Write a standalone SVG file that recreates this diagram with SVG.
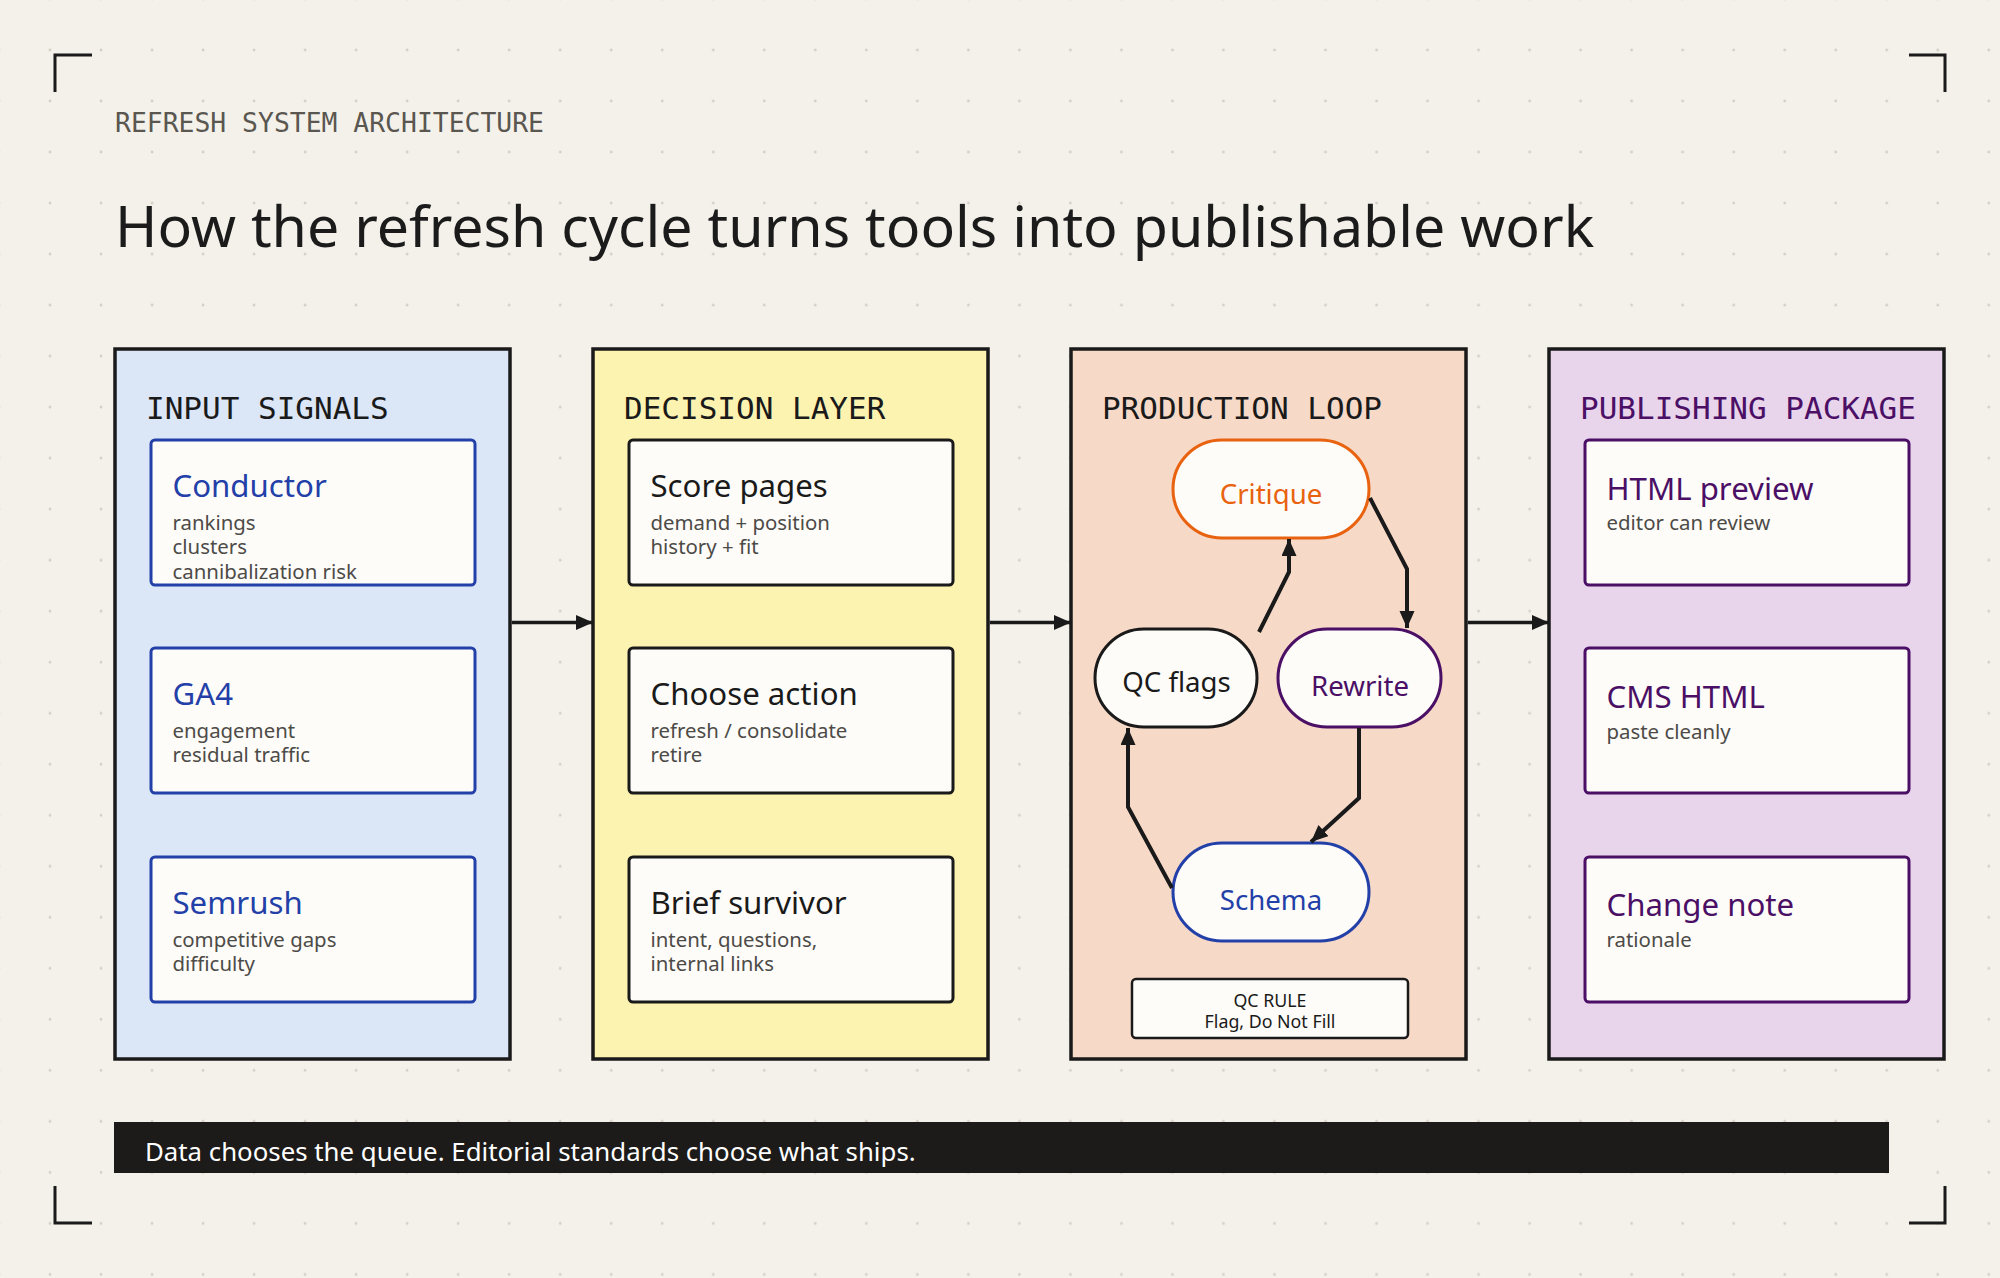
<svg xmlns="http://www.w3.org/2000/svg" width="2000" height="1278" viewBox="0 0 2000 1278">
<defs>
<pattern id="dots" x="24.5" y="24.5" width="51.02" height="51.02" patternUnits="userSpaceOnUse">
<circle cx="25.51" cy="25.51" r="1.4" fill="#d3cfc5"/>
</pattern>
<marker id="ah" markerUnits="userSpaceOnUse" markerWidth="18" markerHeight="16" refX="17" refY="7.5" orient="auto">
<path d="M0,0 L17,7.5 L0,15 z" fill="#1a1a1a"/>
</marker>
<style>
.mono{font-family:"DejaVu Sans Mono","Liberation Mono",monospace}
.sans{font-family:"Noto Sans","Open Sans","Liberation Sans",sans-serif}
.panel{stroke:#1a1a1a;stroke-width:3.5}
.card{fill:#fdfcf8;stroke-width:3}
.ptitle{font-size:31px;fill:#1a1a1a}
.ctitle{font-size:31.2px}
.csub{font-size:20.4px;fill:#4d4b48}
.pill{fill:#fdfcf8;stroke-width:3}
.ptext{font-size:27.6px;text-anchor:middle}
.conn{fill:none;stroke:#1a1a1a;stroke-width:4;marker-end:url(#ah)}
.link{fill:none;stroke:#1a1a1a;stroke-width:3.5;marker-end:url(#ah)}
.corner{fill:none;stroke:#1a1a1a;stroke-width:3}
.blue{stroke:#2340a8}
.bluet{fill:#2340a8}
.purp{stroke:#4b0f66}
.purpt{fill:#4b0f66}
.dark{stroke:#1a1a1a}
.darkt{fill:#1a1a1a}
</style>
</defs>
<rect width="2000" height="1278" fill="#f4f1ea"/>
<rect width="2000" height="1278" fill="url(#dots)"/>
<g id="corners">
<path class="corner" d="M55,92 V55 H92"/>
<path class="corner" d="M1909,55 H1945 V92"/>
<path class="corner" d="M55,1186 V1223 H92"/>
<path class="corner" d="M1909,1223 H1945 V1186"/>
</g>
<g id="header">
<text class="mono" x="115" y="132" font-size="26.4" fill="#5a5650">REFRESH SYSTEM ARCHITECTURE</text>
<text class="sans" x="115" y="247" font-size="57.3" fill="#1b1b1b">How the refresh cycle turns tools into publishable work</text>
</g>

<g id="panel-input">
<rect class="panel" x="115" y="349" width="395" height="710" fill="#dbe6f7"/>
<text class="mono ptitle" x="146" y="419">INPUT SIGNALS</text>
</g>
<g id="panel-decision">
<rect class="panel" x="593" y="349" width="395" height="710" fill="#fdf3b0"/>
<text class="mono ptitle" x="624" y="419">DECISION LAYER</text>
</g>
<g id="panel-production">
<rect class="panel" x="1071" y="349" width="395" height="710" fill="#f6d9c7"/>
<text class="mono ptitle" x="1102" y="419">PRODUCTION LOOP</text>
</g>
<g id="panel-publishing">
<rect class="panel" x="1549" y="349" width="395" height="710" fill="#e8d4eb"/>
<text class="mono ptitle purpt" x="1580" y="419">PUBLISHING PACKAGE</text>
</g>

<g id="conductor">
<rect class="card blue" x="151" y="440" width="324" height="145" rx="4"/>
<text class="sans ctitle bluet" x="172.5" y="497">Conductor</text>
<text class="sans csub" x="172.5" y="529.5">rankings</text>
<text class="sans csub" x="172.5" y="554">clusters</text>
<text class="sans csub" x="172.5" y="578.5">cannibalization risk</text>
</g>
<g id="ga4">
<rect class="card blue" x="151" y="648" width="324" height="145" rx="4"/>
<text class="sans ctitle bluet" x="172.5" y="705">GA4</text>
<text class="sans csub" x="172.5" y="737.5">engagement</text>
<text class="sans csub" x="172.5" y="762">residual traffic</text>
</g>
<g id="semrush">
<rect class="card blue" x="151" y="857" width="324" height="145" rx="4"/>
<text class="sans ctitle bluet" x="172.5" y="914">Semrush</text>
<text class="sans csub" x="172.5" y="946.5">competitive gaps</text>
<text class="sans csub" x="172.5" y="971">difficulty</text>
</g>

<g id="score-pages">
<rect class="card dark" x="629" y="440" width="324" height="145" rx="4"/>
<text class="sans ctitle darkt" x="650.5" y="497">Score pages</text>
<text class="sans csub" x="650.5" y="529.5">demand + position</text>
<text class="sans csub" x="650.5" y="554">history + fit</text>
</g>
<g id="choose-action">
<rect class="card dark" x="629" y="648" width="324" height="145" rx="4"/>
<text class="sans ctitle darkt" x="650.5" y="705">Choose action</text>
<text class="sans csub" x="650.5" y="737.5">refresh / consolidate</text>
<text class="sans csub" x="650.5" y="762">retire</text>
</g>
<g id="brief-survivor">
<rect class="card dark" x="629" y="857" width="324" height="145" rx="4"/>
<text class="sans ctitle darkt" x="650.5" y="914">Brief survivor</text>
<text class="sans csub" x="650.5" y="946.5">intent, questions,</text>
<text class="sans csub" x="650.5" y="971">internal links</text>
</g>

<g id="critique">
<rect class="pill" x="1173" y="440" width="196" height="98" rx="49" stroke="#e8620f"/>
<text class="sans ptext" x="1271" y="504" fill="#e8620f">Critique</text>
</g>
<g id="qc-flags">
<rect class="pill" x="1095" y="629" width="162" height="98" rx="49" stroke="#1a1a1a"/>
<text class="sans ptext" x="1176.5" y="692" fill="#1a1a1a">QC flags</text>
</g>
<g id="rewrite">
<rect class="pill" x="1278" y="629" width="163" height="98" rx="49" stroke="#4b0f66"/>
<text class="sans ptext" x="1360" y="696" fill="#4b0f66">Rewrite</text>
</g>
<g id="schema">
<rect class="pill" x="1173" y="843" width="196" height="98" rx="49" stroke="#2340a8"/>
<text class="sans ptext" x="1271" y="910" fill="#2340a8">Schema</text>
</g>
<g id="qc-rule">
<rect x="1132" y="979" width="276" height="59" rx="4" fill="#fdfcf8" stroke="#1a1a1a" stroke-width="2.5"/>
<text class="sans" x="1270" y="1007" font-size="17.8" text-anchor="middle" fill="#1a1a1a">QC RULE</text>
<text class="sans" x="1270" y="1028" font-size="17.8" text-anchor="middle" fill="#1a1a1a">Flag, Do Not Fill</text>
</g>

<g id="html-preview">
<rect class="card purp" x="1585" y="440" width="324" height="145" rx="4"/>
<text class="sans ctitle purpt" x="1606.5" y="499.5">HTML preview</text>
<text class="sans csub" x="1606.5" y="530">editor can review</text>
</g>
<g id="cms-html">
<rect class="card purp" x="1585" y="648" width="324" height="145" rx="4"/>
<text class="sans ctitle purpt" x="1606.5" y="708">CMS HTML</text>
<text class="sans csub" x="1606.5" y="738.5">paste cleanly</text>
</g>
<g id="change-note">
<rect class="card purp" x="1585" y="857" width="324" height="145" rx="4"/>
<text class="sans ctitle purpt" x="1606.5" y="916">Change note</text>
<text class="sans csub" x="1606.5" y="946.5">rationale</text>
</g>

<g id="connectors">
<path class="link" d="M511.75,622.5 H593"/>
<path class="link" d="M989.75,622.5 H1071"/>
<path class="link" d="M1467.75,622.5 H1549"/>
<path class="conn" d="M1259,632 L1289,572 L1289,539"/>
<path class="conn" d="M1370,498 L1407,569 L1407,628"/>
<path class="conn" d="M1359,728 L1359,798 L1311,842"/>
<path class="conn" d="M1172,888 L1128,807 L1128,728"/>
</g>

<g id="footer">
<rect x="114" y="1122" width="1775" height="51" fill="#1c1b19"/>
<text class="sans" x="145" y="1161" font-size="25.8" fill="#ffffff">Data chooses the queue. Editorial standards choose what ships.</text>
</g>
</svg>
